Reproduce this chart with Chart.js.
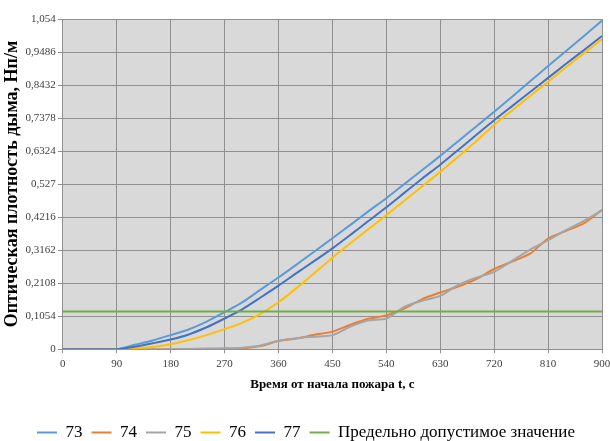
<!DOCTYPE html>
<html>
<head>
<meta charset="utf-8">
<script src="https://cdn.jsdelivr.net/npm/chart.js@4.4.0/dist/chart.umd.min.js"></script>
<style>
    html, body { margin: 0; padding: 0; background: #fff; }
    #wrap { width: 610px; height: 441px; }
</style>
</head>
<body>
<div id="wrap"><canvas id="smokeChart"></canvas></div>
<script>
// time, s
var times = [0, 30, 60, 90, 120, 150, 180, 210, 240, 270, 300, 330, 360, 390, 420, 450,
             480, 510, 540, 570, 600, 630, 660, 690, 720, 750, 780, 810, 840, 870, 900];

// optical smoke density, Np/m
var s73 = [0, 0, 0, 0, 0.014, 0.028, 0.045, 0.063, 0.088, 0.118, 0.150, 0.190, 0.229, 0.270, 0.312, 0.354,
           0.397, 0.440, 0.482, 0.527, 0.572, 0.617, 0.664, 0.711, 0.758, 0.806, 0.855, 0.904, 0.952, 1.000, 1.049];
var s74 = [0, 0, 0, 0, 0, 0, 0, 0, 0, 0.001, 0.003, 0.010, 0.026, 0.034, 0.046, 0.056,
           0.078, 0.097, 0.108, 0.130, 0.160, 0.181, 0.200, 0.224, 0.256, 0.280, 0.305, 0.353, 0.378, 0.402, 0.445];
var s75 = [0, 0, 0, 0, 0, 0, 0, 0.001, 0.002, 0.003, 0.005, 0.012, 0.027, 0.035, 0.040, 0.045,
           0.072, 0.092, 0.098, 0.135, 0.155, 0.170, 0.205, 0.228, 0.247, 0.282, 0.318, 0.348, 0.380, 0.410, 0.443];
var s76 = [0, 0, 0, 0, 0.002, 0.007, 0.016, 0.029, 0.045, 0.064, 0.085, 0.113, 0.150, 0.195, 0.243, 0.292,
           0.338, 0.383, 0.428, 0.474, 0.520, 0.566, 0.614, 0.664, 0.716, 0.762, 0.808, 0.854, 0.900, 0.945, 0.989];
var s77 = [0, 0, 0, 0, 0.008, 0.019, 0.031, 0.047, 0.070, 0.098, 0.128, 0.165, 0.203, 0.243, 0.282, 0.322,
           0.365, 0.409, 0.453, 0.499, 0.545, 0.589, 0.636, 0.684, 0.731, 0.776, 0.821, 0.866, 0.911, 0.955, 1.000];

// permissible limit
var limitTimes = [0, 900];
var limitValues = [0.12, 0.12];

var yTickValues = [0, 0.1054, 0.2108, 0.3162, 0.4216, 0.527, 0.6324, 0.7378, 0.8432, 0.9486, 1.054];
var yTickLabels = ['0', '0,1054', '0,2108', '0,3162', '0,4216', '0,527', '0,6324', '0,7378', '0,8432', '0,9486', '1,054'];
var xTickValues = [0, 90, 180, 270, 360, 450, 540, 630, 720, 810, 900];

function toPoints(xs, ys) {
    return xs.map(function (x, i) { return { x: x, y: ys[i] }; });
}

var serif = 'Liberation Serif';

// grey plot area like the Excel original
var plotBackground = {
    id: 'plotBackground',
    beforeDraw: function (chart) {
        var a = chart.chartArea;
        var ctx = chart.ctx;
        ctx.save();
        ctx.fillStyle = '#d9d9d9';
        ctx.fillRect(a.left, a.top, a.right - a.left, a.bottom - a.top);
        ctx.restore();
    }
};

function line(label, xs, ys, color, order) {
    return {
        label: label,
        data: toPoints(xs, ys),
        borderColor: color,
        backgroundColor: color,
        borderWidth: 2,
        pointRadius: 0,
        tension: 0.25,
        fill: false,
        order: order
    };
}

var ctx = document.getElementById('smokeChart').getContext('2d');
var smokeChart = new Chart(ctx, {
    type: 'line',
    data: {
        datasets: [
            line('73', times, s73, '#5b9bd5', 6),
            line('74', times, s74, '#ed7d31', 5),
            line('75', times, s75, '#a5a5a5', 4),
            line('76', times, s76, '#ffc000', 3),
            line('77', times, s77, '#4472c4', 2),
            line('Предельно допустимое значение', limitTimes, limitValues, '#70ad47', 1)
        ]
    },
    options: {
        responsive: true,
        maintainAspectRatio: false,
        animation: false,
        layout: { padding: { left: 2, right: 0, top: 19, bottom: -10 } },
        scales: {
            x: {
                type: 'linear',
                min: 0,
                max: 900,
                afterBuildTicks: function (axis) {
                    axis.ticks = xTickValues.map(function (v) { return { value: v }; });
                },
                afterFit: function (axis) {
                    // let the last label hang to the canvas edge
                    axis.paddingRight = 8;
                },
                ticks: {
                    font: { family: serif, size: 11 },
                    color: '#404040',
                    maxRotation: 0,
                    padding: 4,
                    callback: function (value) { return String(value); }
                },
                grid: { color: '#909090', tickLength: 4 },
                border: { color: '#909090' },
                title: {
                    display: true,
                    text: 'Время от начала пожара t, с',
                    font: { family: serif, size: 13, weight: 'bold' },
                    color: '#000',
                    padding: { top: 2, bottom: 23 }
                }
            },
            y: {
                min: 0,
                max: 1.054,
                afterBuildTicks: function (axis) {
                    axis.ticks = yTickValues.map(function (v) { return { value: v }; });
                },
                ticks: {
                    font: { family: serif, size: 11 },
                    color: '#404040',
                    padding: 2,
                    callback: function (value, index) { return yTickLabels[index]; }
                },
                grid: { color: '#909090', tickLength: 5 },
                border: { color: '#909090' },
                title: {
                    display: true,
                    text: 'Оптическая плотность дыма, Нп/м',
                    font: { family: serif, size: 18, weight: 'bold' },
                    color: '#000',
                    padding: { top: 0, bottom: 0 }
                }
            }
        },
        plugins: {
            legend: {
                display: true,
                position: 'bottom',
                labels: {
                    usePointStyle: true,
                    pointStyle: 'line',
                    pointStyleWidth: 20,
                    padding: 9,
                    color: '#000',
                    font: { family: serif, size: 17 },
                    sort: function (a, b) { return a.datasetIndex - b.datasetIndex; }
                }
            },
            tooltip: { enabled: false }
        }
    },
    plugins: [plotBackground]
});
</script>
</body>
</html>
